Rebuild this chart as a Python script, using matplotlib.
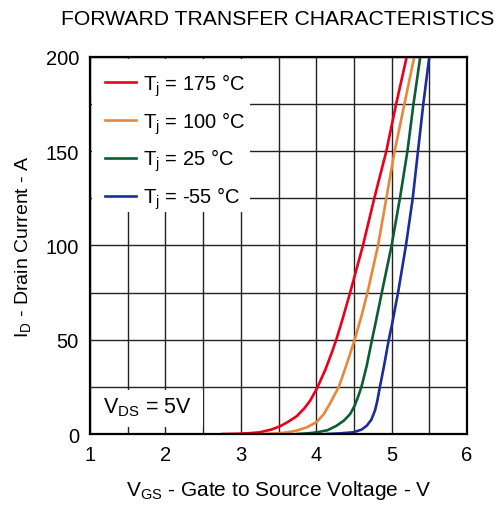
import matplotlib
matplotlib.use("Agg")
import matplotlib.pyplot as plt
from matplotlib.patches import Rectangle

plt.rcParams["font.family"] = ["Liberation Sans", "DejaVu Sans"]
plt.rcParams["mathtext.default"] = "regular"

# (V_GS in V, I_D in A)
v_175 = [2.76, 2.9, 3.0, 3.1, 3.25, 3.4, 3.52, 3.62, 3.74, 3.84, 3.92, 4.01, 4.12, 4.21, 4.27,
         4.35, 4.45, 4.62, 4.77, 4.93, 5.06, 5.20]
i_175 = [0, 0.1, 0.2, 0.4, 0.9, 2.3, 4.1, 6.3, 9.4, 13.5, 17.7, 24.2, 34, 43.5, 50.5,
         61, 75, 100, 125, 150, 175, 200]

v_100 = [3.30, 3.5, 3.62, 3.74, 3.88, 4.01, 4.10, 4.18, 4.30, 4.40, 4.51, 4.60,
         4.68, 4.82, 4.93, 5.04, 5.17, 5.30]
i_100 = [0, 0.4, 0.9, 1.8, 3.6, 6.5, 10.5, 16, 25, 36.5, 50, 62.5,
         75, 100, 125, 150, 175, 200]

v_25 = [3.75, 3.9, 4.01, 4.15, 4.27, 4.37, 4.45, 4.51, 4.56, 4.60, 4.67, 4.74, 4.78,
        4.87, 5.0, 5.11, 5.21, 5.29, 5.38]
i_25 = [0, 0.4, 0.9, 2.0, 4.4, 7.2, 10.6, 15, 20.3, 25, 36.2, 50, 57.5,
        75, 100, 125, 150, 175, 200]

v_m55 = [4.14, 4.30, 4.49, 4.60, 4.67, 4.73, 4.78, 4.81, 4.84, 4.90, 4.96, 5.01,
         5.09, 5.19, 5.28, 5.35, 5.42, 5.50]
i_m55 = [0, 0.3, 0.9, 2.3, 4.4, 7.5, 12.5, 17.5, 24, 36.2, 49.5, 59,
         76, 100, 125, 150, 175, 200]

labels = ["175", "100", "25", "-55"]
colors = ["#e8001c", "#e8873a", "#0a5e32", "#1a2d9a"]

fig = plt.figure(figsize=(5.0, 5.06), dpi=100)
ax = fig.add_axes([0.18, 0.1403, 0.754, 0.7451])

series = [(v_175, i_175), (v_100, i_100), (v_25, i_25), (v_m55, i_m55)]
for (v, i), lab, c in zip(series, labels, colors):
    ax.plot(v, i, color=c, lw=1.9, label=r"T$_{j}$ = " + lab + " °C", zorder=4,
            solid_joinstyle="round")

ax.set_xlim(1, 6)
ax.set_ylim(0, 200)
ax.set_xticks([1, 2, 3, 4, 5, 6])
ax.set_yticks([0, 50, 100, 150, 200])
ax.set_xticks([x / 2 for x in range(2, 13)], minor=True)
ax.set_yticks(range(0, 201, 25), minor=True)
ax.grid(which="both", color="#222222", lw=1.0, zorder=0.5)
ax.tick_params(which="both", length=0, labelsize=14.5, pad=8)
for s in ax.spines.values():
    s.set_linewidth(1.6)
    s.set_zorder(5)

# white patches hiding the grid behind legend and V_DS note
ax.add_patch(Rectangle((0.005, 0.589), 0.42, 0.405, transform=ax.transAxes,
                       facecolor="white", edgecolor="none", zorder=3))
ax.add_patch(Rectangle((0.005, 0.019), 0.296, 0.098, transform=ax.transAxes,
                       facecolor="white", edgecolor="none", zorder=3))

ax.legend(loc="upper left", bbox_to_anchor=(0.041, 0.962), frameon=False,
          fontsize=14.5, handlelength=1.5, handletextpad=0.38, labelspacing=0.56,
          borderaxespad=0, borderpad=0)
ax.text(0.034, 0.072, r"V$_{DS}$ = 5V", transform=ax.transAxes, fontsize=15.5,
        va="center", zorder=4)

ax.set_xlabel(r"V$_{GS}$ - Gate to Source Voltage - V", fontsize=15, labelpad=10)
ax.set_ylabel(r"I$_{D}$ - Drain Current - A", fontsize=14, labelpad=9)
fig.text(0.555, 0.962, "FORWARD TRANSFER CHARACTERISTICS", ha="center", va="center",
         fontsize=15.2)

fig.savefig("out.png", dpi=100)
